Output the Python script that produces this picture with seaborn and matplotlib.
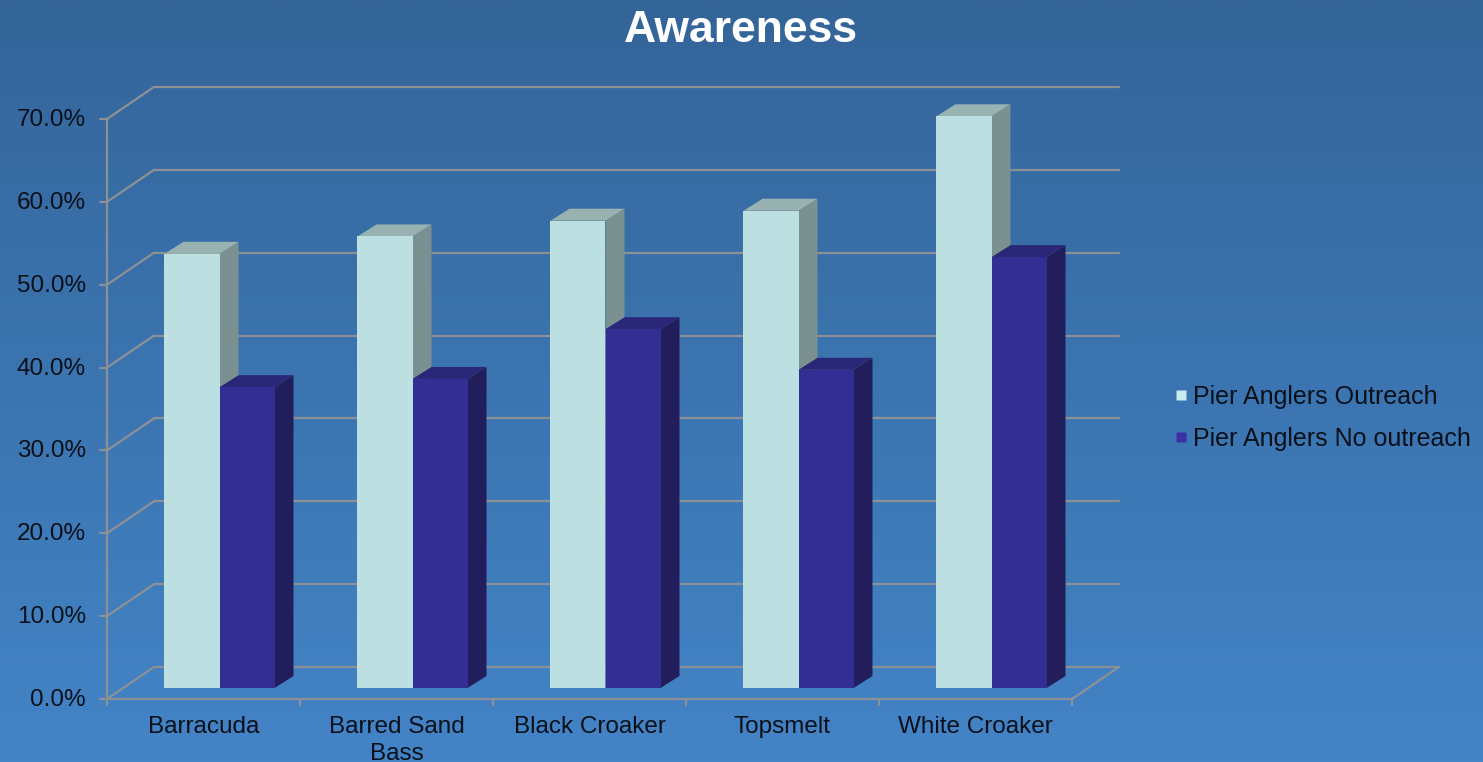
import numpy as np
import pandas as pd
import matplotlib
matplotlib.use("Agg")
import matplotlib.pyplot as plt
import seaborn as sns
from matplotlib.transforms import offset_copy
from matplotlib.patches import Polygon
from matplotlib.lines import Line2D

# ---- data -------------------------------------------------------------
species = ["Barracuda", "Barred Sand\nBass", "Black Croaker", "Topsmelt", "White Croaker"]
outreach = [52.4, 54.5, 56.4, 57.6, 69.0]
no_outreach = [36.3, 37.3, 43.3, 38.4, 52.0]
series = ["Pier Anglers Outreach", "Pier Anglers No outreach"]
y_ticks = [0, 10, 20, 30, 40, 50, 60, 70]

# ---- style ------------------------------------------------------------
sns.set_theme(style="white")
plt.rcParams["font.family"] = ["Liberation Sans", "DejaVu Sans"]

front_col = ["#bce0e2", "#332e94"]
top_col = ["#97b2b1", "#2a2678"]
side_col = ["#7b9191", "#221e5c"]
grid_col = "#8d9196"
text_col = "#0a1019"

df = pd.DataFrame({
    "species": species * 2,
    "series": [series[0]] * len(species) + [series[1]] * len(species),
    "value": outreach + no_outreach,
})

W, H = 1483, 762
fig = plt.figure(figsize=(W / 100, H / 100), dpi=100)

# vertical blue gradient background
bg = fig.add_axes([0, 0, 1, 1], zorder=-10)
c_top = np.array([0x34, 0x65, 0x99]) / 255
c_bot = np.array([0x43, 0x84, 0xc7]) / 255
t = np.linspace(0, 1, 256)[:, None, None]
grad = c_top * (1 - t) + c_bot * t
bg.imshow(grad, aspect="auto", extent=[0, 1, 0, 1])
bg.axis("off")

# ---- plot geometry (pixels) -------------------------------------------
px_cat = 193.0        # width of one category
px_unit = 8.286       # pixels per percentage point
x0_px, y0_px = 219.5, 688.0   # first category centre / zero level on the bar plane
left_px, right_px, top_px, bottom_px = 107, 1120, 80, 700

ax = fig.add_axes([left_px / W, 1 - bottom_px / H,
                   (right_px - left_px) / W, (bottom_px - top_px) / H])
ax.patch.set_alpha(0)

sns.barplot(data=df, x="species", y="value", hue="series",
            order=species, hue_order=series, palette=front_col,
            width=0.57, saturation=1, linewidth=0, errorbar=None,
            legend=False, ax=ax)

ax.set_xlim((left_px - x0_px) / px_cat, (right_px - x0_px) / px_cat)
ax.set_ylim((y0_px - bottom_px) / px_unit, (y0_px - top_px) / px_unit)
ax.axis("off")

# depth offsets: front plane and back wall relative to the bar plane
front = offset_copy(ax.transData, fig=fig, x=-16, y=-11, units="dots")
back = offset_copy(ax.transData, fig=fig, x=31, y=21, units="dots")

n = len(species)
xl, xr = -0.5, n - 0.5

# back wall gridlines and left wall diagonals
for v in y_ticks:
    ax.add_line(Line2D([xl, xr], [v, v], transform=back, color=grid_col, lw=1.6, zorder=1, clip_on=False))
    # diagonal from front axis to back wall
    p_front = front.transform((xl, v))
    p_back = back.transform((xl, v))
    ax.add_line(Line2D([p_front[0], p_back[0]], [p_front[1], p_back[1]], transform=None,
                       color=grid_col, lw=1.6, zorder=1, clip_on=False))
    # tick mark on front axis
    ax.add_line(Line2D([p_front[0] - 7, p_front[0]], [p_front[1], p_front[1]], transform=None,
                       color=grid_col, lw=1.6, zorder=1, clip_on=False))
    ax.text(xl, v, f"{v:.1f}%",
            transform=offset_copy(ax.transData, fig=fig, x=-37, y=-12, units="dots"),
            ha="right", va="center", fontsize=17.5, color=text_col)

# front vertical axis
ax.add_line(Line2D([xl, xl], [0, y_ticks[-1]], transform=front, color=grid_col, lw=1.6, zorder=1, clip_on=False))
# floor: front edge and right diagonal
ax.add_line(Line2D([xl, xr], [0, 0], transform=front, color=grid_col, lw=1.6, zorder=1, clip_on=False))
pf = front.transform((xr, 0))
pb = back.transform((xr, 0))
ax.add_line(Line2D([pf[0], pb[0]], [pf[1], pb[1]], transform=None, color=grid_col, lw=1.6, zorder=1, clip_on=False))
for i in range(n + 1):
    p = front.transform((xl + i, 0))
    ax.add_line(Line2D([p[0], p[0]], [p[1], p[1] - 6], transform=None, color=grid_col, lw=1.6, zorder=1, clip_on=False))

# category labels on the front plane
for i, name in enumerate(species):
    ax.text(i, 0, name, transform=offset_copy(ax.transData, fig=fig, x=-16, y=-28, units="dots"),
            ha="center", va="top", fontsize=17.5, color=text_col, linespacing=1.28)

# ---- 3D faces for each bar ------------------------------------------------
ddx = 19 / px_cat
ddy = 12 / px_unit
for p in list(ax.patches):
    x, w, h = p.get_x(), p.get_width(), p.get_height()
    cx = x + w / 2
    k = 0 if cx < round(cx) else 1
    z = 2 + k
    p.set_zorder(z + 0.5)
    top_face = Polygon([(x, h), (x + w, h), (x + w + ddx, h + ddy), (x + ddx, h + ddy)],
                       closed=True, facecolor=top_col[k], edgecolor="none", zorder=z)
    side_face = Polygon([(x + w, 0), (x + w, h), (x + w + ddx, h + ddy), (x + w + ddx, ddy)],
                        closed=True, facecolor=side_col[k], edgecolor="none", zorder=z)
    ax.add_patch(side_face)
    ax.add_patch(top_face)

# ---- title and legend -----------------------------------------------------
fig.text(741 / W, 1 - 42 / H, "Awareness", ha="center", va="baseline",
         fontsize=32, fontweight="bold", color="white")

handles = [Line2D([], [], linestyle="none", marker="s", markersize=7.5,
                  markerfacecolor=c, markeredgecolor="none") for c in ["#c8ecee", "#3a30a4"]]
fig.legend(handles, series, loc="center left", bbox_to_anchor=(1173 / W, 1 - 418 / H),
           frameon=False, fontsize=18, handlelength=0.6, handletextpad=0.2,
           labelspacing=0.7, borderpad=0, borderaxespad=0, labelcolor=text_col)

fig.savefig("out.png", dpi=100)
